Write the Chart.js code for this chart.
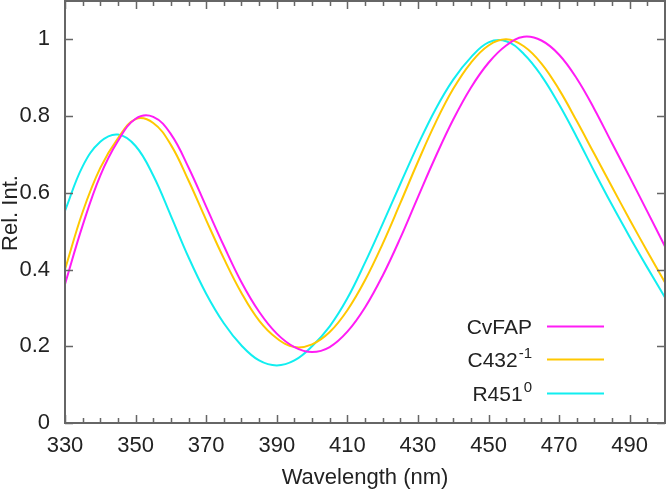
<!DOCTYPE html>
<html>
<head>
<meta charset="utf-8">
<script src="https://cdn.jsdelivr.net/npm/chart.js@4.4.1/dist/chart.umd.min.js"></script>
<style>
  body { margin: 0; background: #fff; }
  #wrap { width: 666px; height: 491px; position: relative; }
</style>
</head>
<body>
<div id="wrap"><canvas id="myChart"></canvas></div>
<script>
// wavelength (nm), sampled every 5 nm
var wavelengths = [330, 335, 340, 345, 350, 355, 360, 365, 370, 375, 380, 385, 390, 395, 400, 405, 410,
                   415, 420, 425, 430, 435, 440, 445, 450, 455, 460, 465, 470, 475, 480, 485, 490, 495, 500];

var cvfap = [0.362, 0.515, 0.645, 0.735, 0.793, 0.798, 0.753, 0.666, 0.564, 0.462, 0.367, 0.290, 0.233, 0.198, 0.185, 0.198, 0.238,
             0.301, 0.384, 0.482, 0.589, 0.694, 0.791, 0.874, 0.939, 0.984, 1.007, 0.997, 0.960, 0.898, 0.818, 0.729, 0.641, 0.551, 0.460];

var c432 = [0.400, 0.550, 0.665, 0.742, 0.792, 0.782, 0.725, 0.632, 0.529, 0.429, 0.339, 0.267, 0.221, 0.198, 0.205, 0.237, 0.294,
            0.372, 0.467, 0.573, 0.681, 0.783, 0.871, 0.939, 0.984, 1.000, 0.982, 0.937, 0.869, 0.787, 0.701, 0.615, 0.530, 0.447, 0.366];

var r451 = [0.553, 0.669, 0.733, 0.752, 0.722, 0.645, 0.540, 0.432, 0.337, 0.260, 0.202, 0.163, 0.150, 0.163, 0.200, 0.252, 0.325,
            0.418, 0.519, 0.623, 0.725, 0.818, 0.895, 0.953, 0.992, 0.995, 0.962, 0.905, 0.830, 0.745, 0.655, 0.568, 0.485, 0.405, 0.327];

var seriesNames = ['CvFAP', 'C432', 'R451'];
var seriesSup = ['', '-1', '0'];
var seriesColors = ['#ff1cf5', '#ffc800', '#11eef0'];

var xMajorTicks = [330, 350, 370, 390, 410, 430, 450, 470, 490];
var xMinorTicks = [];
for (var t = 335; t < 500; t += 5) if (xMajorTicks.indexOf(t) < 0) xMinorTicks.push(t);
var yTicks = [0, 0.2, 0.4, 0.6, 0.8, 1];
var yTickLabels = ['0', '0.2', '0.4', '0.6', '0.8', '1'];

var FONT = "'Liberation Sans', Arial, Helvetica, sans-serif";
var TXT = '#222';
var AXC = '#666';

function pts(vals) {
  return wavelengths.map(function(w, i) { return {x: w, y: vals[i]}; });
}

// frame + inward ticks on all four sides
var frameTicks = {
  id: 'frameTicks',
  afterDatasetsDraw: function(chart) {
    var ctx = chart.ctx, a = chart.chartArea, x = chart.scales.x, y = chart.scales.y;
    ctx.save();
    ctx.strokeStyle = AXC;
    ctx.lineWidth = 1.5;
    ctx.beginPath();
    xMajorTicks.forEach(function(v) {
      var px = Math.round(x.getPixelForValue(v)) + 0.5;
      ctx.moveTo(px, a.bottom); ctx.lineTo(px, a.bottom - 8);
      ctx.moveTo(px, a.top); ctx.lineTo(px, a.top + 8);
    });
    xMinorTicks.forEach(function(v) {
      var px = Math.round(x.getPixelForValue(v)) + 0.5;
      ctx.moveTo(px, a.bottom); ctx.lineTo(px, a.bottom - 5);
      ctx.moveTo(px, a.top); ctx.lineTo(px, a.top + 5);
    });
    yTicks.forEach(function(v) {
      var py = Math.round(y.getPixelForValue(v)) + 0.5;
      ctx.moveTo(a.left, py); ctx.lineTo(a.left + 8, py);
      ctx.moveTo(a.right, py); ctx.lineTo(a.right - 8, py);
    });
    ctx.stroke();
    ctx.lineWidth = 2;
    ctx.strokeRect(a.left, a.top, a.right - a.left, a.bottom - a.top);

    // y title
    ctx.fillStyle = TXT;
    ctx.font = '22px ' + FONT;
    ctx.textAlign = 'center';
    ctx.textBaseline = 'middle';
    ctx.translate(11, 213);
    ctx.rotate(-Math.PI / 2);
    ctx.fillText('Rel. Int.', 0, 0);
    ctx.restore();
  }
};

// legend: label on the left, line sample on the right
var textLegend = {
  id: 'textLegend',
  afterDatasetsDraw: function(chart) {
    var ctx = chart.ctx, a = chart.chartArea;
    var rowsY = [a.bottom - 97, a.bottom - 64, a.bottom - 30];
    var textRight = a.right - 133;
    ctx.save();
    for (var i = 0; i < seriesNames.length; i++) {
      var cy = rowsY[i];
      ctx.font = '21px ' + FONT;
      var wBase = ctx.measureText(seriesNames[i]).width;
      ctx.font = '15px ' + FONT;
      var wSup = seriesSup[i] ? ctx.measureText(seriesSup[i]).width + 1 : 0;
      var x0 = textRight - wBase - wSup;
      ctx.fillStyle = TXT;
      ctx.textAlign = 'left';
      ctx.textBaseline = 'alphabetic';
      ctx.font = '21px ' + FONT;
      ctx.fillText(seriesNames[i], x0, cy + 8);
      if (seriesSup[i]) {
        ctx.font = '15px ' + FONT;
        ctx.fillText(seriesSup[i], x0 + wBase + 1, cy - 1);
      }
      ctx.strokeStyle = seriesColors[i];
      ctx.lineWidth = 2;
      ctx.beginPath();
      ctx.moveTo(a.right - 118, cy + 0.5);
      ctx.lineTo(a.right - 61, cy + 0.5);
      ctx.stroke();
    }
    ctx.restore();
  }
};

var ctx = document.getElementById('myChart').getContext('2d');
var myChart = new Chart(ctx, {
  type: 'line',
  data: {
    datasets: [
      { label: seriesNames[0], data: pts(cvfap), borderColor: seriesColors[0] },
      { label: seriesNames[1], data: pts(c432), borderColor: seriesColors[1] },
      { label: seriesNames[2], data: pts(r451), borderColor: seriesColors[2] }
    ]
  },
  options: {
    responsive: true,
    maintainAspectRatio: false,
    animation: false,
    devicePixelRatio: 1,
    layout: { padding: { top: 1, right: 1, left: 0, bottom: 0 } },
    elements: {
      line: { borderWidth: 2, tension: 0.4, fill: false },
      point: { radius: 0 }
    },
    plugins: {
      legend: { display: false },
      tooltip: { enabled: false }
    },
    scales: {
      x: {
        type: 'linear',
        min: 330,
        max: 500,
        grid: { display: false },
        border: { display: false },
        afterBuildTicks: function(scale) {
          scale.ticks = xMajorTicks.map(function(v) { return {value: v}; });
        },
        afterFit: function(scale) {
          scale.height = 68;
          scale.paddingLeft = 0;
          scale.paddingRight = 0;
        },
        ticks: {
          autoSkip: false,
          maxRotation: 0,
          padding: 2,
          color: TXT,
          font: { family: FONT, size: 22 },
          callback: function(v) { return String(v); }
        },
        title: {
          display: true,
          text: 'Wavelength (nm)',
          color: TXT,
          font: { family: FONT, size: 22 },
          padding: { top: 0, bottom: 0 }
        }
      },
      y: {
        min: 0,
        max: 1.1,
        grid: { display: false },
        border: { display: false },
        afterBuildTicks: function(scale) {
          scale.ticks = yTicks.map(function(v) { return {value: v}; });
        },
        afterFit: function(scale) {
          scale.width = 65;
          scale.paddingTop = 0;
          scale.paddingBottom = 0;
        },
        ticks: {
          padding: 7,
          color: TXT,
          font: { family: FONT, size: 22 },
          callback: function(v) {
            var i = yTicks.indexOf(+v.toFixed(1));
            return i >= 0 ? yTickLabels[i] : '';
          }
        }
      }
    }
  },
  plugins: [frameTicks, textLegend]
});
</script>
</body>
</html>
